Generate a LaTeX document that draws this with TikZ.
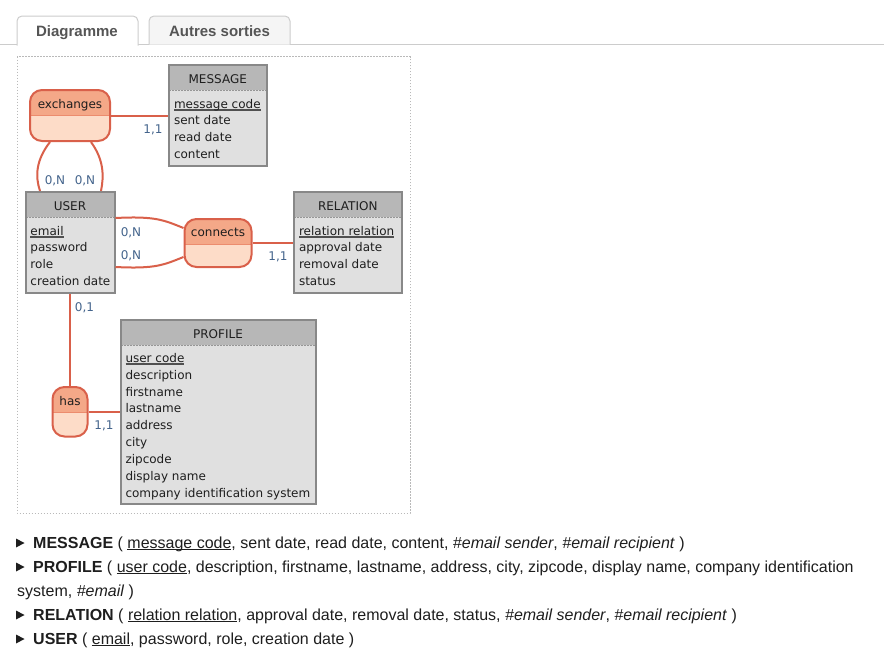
\documentclass[tikz,border=0pt]{standalone}
\usepackage{fontspec}
\setmainfont{Liberation Sans}
\newfontfamily\diagfont{DejaVu Sans}
\usetikzlibrary{positioning}

\definecolor{assoline}{RGB}{217,96,74}
\definecolor{assohead}{RGB}{244,168,136}
\definecolor{assobody}{RGB}{253,220,200}
\definecolor{assosep}{RGB}{236,140,110}
\definecolor{entline}{RGB}{136,136,136}
\definecolor{enthead}{RGB}{183,183,183}
\definecolor{entbody}{RGB}{224,224,224}
\definecolor{entsep}{RGB}{150,150,150}
\definecolor{cardcol}{RGB}{68,100,140}
\definecolor{textcol}{RGB}{30,30,30}
\definecolor{keyline}{RGB}{80,80,80}
\definecolor{tabline}{RGB}{204,204,204}
\definecolor{tabfill}{RGB}{245,245,245}
\definecolor{tabtext}{RGB}{85,85,85}
\definecolor{framecol}{RGB}{185,185,185}

\newcommand{\diagsize}{\diagfont\fontsize{12}{14}\selectfont}
\newcommand{\listsize}{\fontsize{16}{19}\selectfont}
\newcommand{\tabsize}{\fontsize{15}{18}\selectfont}
% underlined identifiers
\newcommand{\pkey}[1]{\sbox0{#1}\rlap{\color{keyline}\rule[-2.8pt]{\wd0}{1.6pt}}\usebox0}
\newcommand{\fkey}[1]{\sbox0{#1}\rlap{\rule[-2pt]{\wd0}{0.9pt}}\usebox0}

\begin{document}
\begin{tikzpicture}[
    x=1pt, y=-1pt,
    entity/.style={rectangle, draw=entline, fill=entbody, line width=2pt, inner sep=0pt,
      path picture={
        \fill[enthead, sharp corners] (path picture bounding box.north west) rectangle ([yshift=-25pt]path picture bounding box.north east);
        \draw[entsep, line width=1pt, dash pattern=on 2pt off 1pt] ([yshift=-25pt]path picture bounding box.north west) -- ([yshift=-25pt]path picture bounding box.north east);
      }},
    asso/.style={rectangle, rounded corners=12pt, draw=assoline, fill=assobody, line width=2pt, inner sep=0pt,
      path picture={
        \fill[assohead, sharp corners] (path picture bounding box.north west) rectangle ([yshift=-25pt]path picture bounding box.north east);
        \draw[assosep, line width=1pt, sharp corners] ([yshift=-25pt]path picture bounding box.north west) -- ([yshift=-25pt]path picture bounding box.north east);
      }},
    link/.style={draw=assoline, line width=2pt},
    dtext/.style={font=\diagsize, text=textcol, inner sep=0pt},
    ename/.style={dtext, anchor=base},
    attr/.style={dtext, anchor=base west},
    card/.style={dtext, text=cardcol, anchor=base},
    tab/.style={draw=tabline, line width=1pt, rounded corners=5pt},
    tablbl/.style={font=\tabsize\bfseries, text=tabtext, inner sep=0pt, anchor=base},
    row/.style={font=\listsize, text=textcol, inner sep=0pt, anchor=base west},
]
\useasboundingbox (0,0) rectangle (884,653);

% Tabs
\draw[tabline, line width=1pt] (0,44.5) -- (884,44.5);
\draw[tab, fill=white] (17,45.5) -- (17,16) -- (138,16) -- (138,45.5);
\draw[tab, fill=tabfill] (149,44.5) -- (149,16) -- (290,16) -- (290,44.5);
\node[tablbl] (tab-diagram) at (77,36) {Diagramme};
\node[tablbl] (tab-other) at (219.5,36) {Autres sorties};

% Diagram frame
\draw[framecol, line width=0.8pt, dash pattern=on 1.5pt off 1.5pt] (17,56.5) rectangle (410,513);

% Entities
\node[entity, minimum width=97.5pt, minimum height=101pt] (message) at (217.75,115.5) {};
\node[entity, minimum width=89pt, minimum height=101pt] (user) at (70,242.5) {};
\node[entity, minimum width=107.5pt, minimum height=101pt] (relation) at (347.75,242.5) {};
\node[entity, minimum width=195pt, minimum height=184pt] (profile) at (218,412) {};

% Associations
\node[asso, minimum width=80pt, minimum height=51pt] (exchanges) at (70,115.5) {};
\node[asso, minimum width=67pt, minimum height=48pt] (connects) at (218,243) {};
\node[asso, minimum width=35pt, minimum height=49.5pt] (has) at (70,411.75) {};

% Entity names
\node[ename] (message-name) at ([yshift=-19pt]message.north) {MESSAGE};
\node[ename] (user-name) at ([yshift=-19pt]user.north) {USER};
\node[ename] (relation-name) at ([yshift=-19pt]relation.north) {RELATION};
\node[ename] (profile-name) at ([yshift=-19pt]profile.north) {PROFILE};

% Attributes
\node[attr] (message-a0) at ([xshift=5.8pt, yshift=-44pt]message.north west) {\pkey{message code}};
\foreach \a [count=\i] in {sent date, read date, content}
  \node[attr] (message-a\i) at ([xshift=5.8pt, yshift={-44pt-16.9pt*\i}]message.north west) {\a};

\node[attr] (user-a0) at ([xshift=5.8pt, yshift=-44pt]user.north west) {\pkey{email}};
\foreach \a [count=\i] in {password, role, creation date}
  \node[attr] (user-a\i) at ([xshift=5.8pt, yshift={-44pt-16.9pt*\i}]user.north west) {\a};

\node[attr] (relation-a0) at ([xshift=5.8pt, yshift=-44pt]relation.north west) {\pkey{relation relation}};
\foreach \a [count=\i] in {approval date, removal date, status}
  \node[attr] (relation-a\i) at ([xshift=5.8pt, yshift={-44pt-16.9pt*\i}]relation.north west) {\a};

\node[attr] (profile-a0) at ([xshift=5.8pt, yshift=-43.2pt]profile.north west) {\pkey{user code}};
\foreach \a [count=\i] in {description, firstname, lastname, address, city, zipcode, display name, company identification system}
  \node[attr] (profile-a\i) at ([xshift=5.8pt, yshift={-43.2pt-16.9pt*\i}]profile.north west) {\a};

% Association names
\node[ename] (exchanges-name) at ([yshift=-19.5pt]exchanges.north) {exchanges};
\node[ename] (connects-name) at ([yshift=-18.5pt]connects.north) {connects};
\node[ename] (has-name) at ([yshift=-19pt]has.north) {has};

% Links
\draw[link] (exchanges.east) -- (exchanges.east -| message.west);
\draw[link] ([xshift=-20pt]exchanges.south) .. controls +(-14,18) and +(-5,-15) .. ([xshift=-30pt]user.north);
\draw[link] ([xshift=21pt]exchanges.south) .. controls +(13,18) and +(3,-15) .. ([xshift=31pt]user.north);
\draw[link] ([yshift=24.5pt]user.east) .. controls +(40,-2) and +(-20,-8) .. ([yshift=15pt]connects.west);
\draw[link] ([yshift=-24.5pt]user.east) .. controls +(40,2) and +(-20,8) .. ([yshift=-14pt]connects.west);
\draw[link] (connects.east) -- (connects.east -| relation.west);
\draw[link] (user.south) -- (has.north);
\draw[link] (has.east) -- (has.east -| profile.west);

% Cardinalities
\node[card] (c-msg) at (153,133) {1,1};
\node[card] (c-ex1) at (55,184.5) {0,N};
\node[card] (c-ex2) at (85,184.5) {0,N};
\node[card] (c-co1) at (131,236) {0,N};
\node[card] (c-co2) at (131,259.5) {0,N};
\node[card] (c-rel) at (278,260.5) {1,1};
\node[card] (c-usr) at (84.5,311) {0,1};
\node[card] (c-pro) at (104,429) {1,1};

% Relational schema
\foreach \y in {543,567,615,639}
  \fill[textcol] (16,{\y-4.5}) -- (24.5,\y) -- (16,{\y+4.5}) -- cycle;
\node[row] (r-message) at (33,548) {\textbf{MESSAGE} ( \fkey{message code}, sent date, read date, content, \textit{\#email sender}, \textit{\#email recipient} )};
\node[row] (r-profile) at (33,572) {\textbf{PROFILE} ( \fkey{user code}, description, firstname, lastname, address, city, zipcode, display name, company identification};
\node[row] (r-profile2) at (17,596) {system, \textit{\#email} )};
\node[row] (r-relation) at (33,620) {\textbf{RELATION} ( \fkey{relation relation}, approval date, removal date, status, \textit{\#email sender}, \textit{\#email recipient} )};
\node[row] (r-user) at (33,644) {\textbf{USER} ( \fkey{email}, password, role, creation date )};
\end{tikzpicture}
\end{document}
